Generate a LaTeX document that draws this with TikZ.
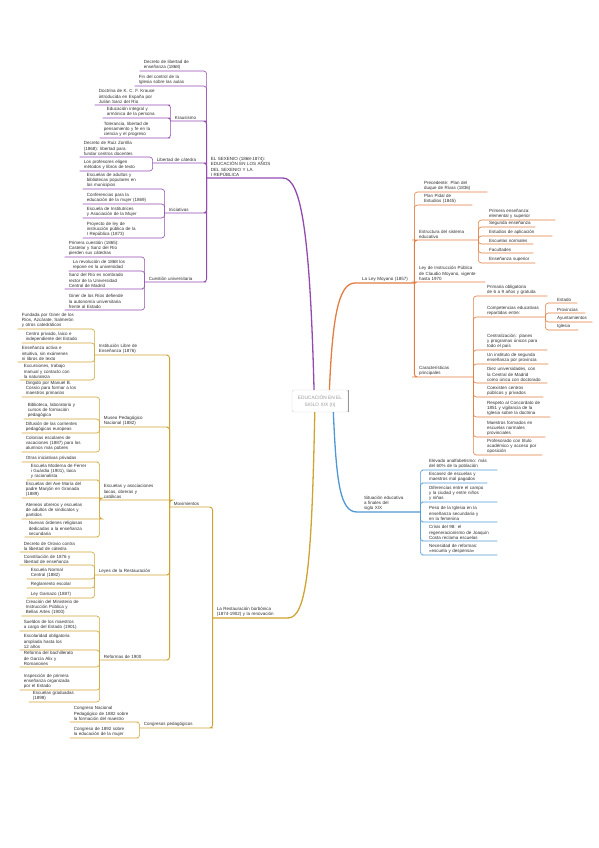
\documentclass[tikz,border=0pt]{standalone}
\usepackage{fontspec}
\setmainfont{Liberation Sans}
\usetikzlibrary{positioning}
\definecolor{purp}{RGB}{146,73,176}
\definecolor{orng}{RGB}{226,125,66}
\definecolor{blu}{RGB}{78,152,212}
\definecolor{gold}{RGB}{206,163,48}
\definecolor{txt}{RGB}{45,45,45}
\definecolor{hubgray}{RGB}{150,150,150}

\begin{document}
\begin{tikzpicture}[x=1pt, y=-1pt,
  every node/.style={font=\fontsize{4.5}{5.3}\selectfont, text=txt},
  leaf/.style={text width=#1, inner xsep=4pt, inner ysep=1.2pt, align=left},
  leaf/.default=56pt,
  root/.style={draw=hubgray!45, rounded corners=2pt, minimum width=56pt, minimum height=22pt,
               align=center, text=hubgray, font=\fontsize{4.8}{7}\selectfont},
  br/.style={line width=#1, rounded corners=3pt},
  br/.default=0.6pt
]
\useasboundingbox (0,0) rectangle (599,848);

\node[root] (root) at (320,401) {EDUCACIÓN EN EL\\SIGLO XIX (II)};
\draw[hubgray, line width=1pt] (root.north east) -- (root.south east);

% --- sexenio
\node[leaf=65pt, anchor=south east] (p0) at (280,178) {EL SEXENIO (1868-1874):\\EDUCACIÓN EN LOS AÑOS\\DEL SEXENIO Y LA\\I REPÚBLICA};
\node[leaf=52pt, anchor=south east] (pa1) at (200,71) {Decreto de libertad de\\enseñanza (1868)};
\node[leaf=57pt, anchor=south east] (pa2) at (200,86) {Fin del control de la\\Iglesia sobre las aulas};
\node[leaf=24pt, anchor=south east] (pk) at (203,121) {Krausismo};
\node[leaf=64pt, anchor=south east] (pc1) at (167,105) {Doctrina de K. C. F. Krause\\introducida en España por\\Julián Sanz del Río};
\node[leaf=56pt, anchor=south east] (pc2) at (167,118) {Educación integral y\\armónica de la persona};
\node[leaf=59pt, anchor=south east] (pc3) at (167,138) {Tolerancia, libertad de\\pensamiento y fe en la\\ciencia y el progreso};
\node[leaf=42pt, anchor=south east] (pl) at (203,163) {Libertad de cátedra};
\node[leaf=59pt, anchor=south east] (pd1) at (147,157) {Decreto de Ruiz Zorrilla\\(1868): libertad para\\fundar centros docentes};
\node[leaf=59pt, anchor=south east] (pd2) at (147,171) {Los profesores eligen\\métodos y libros de texto};
\node[leaf=30pt, anchor=south east] (pe) at (203,213) {Iniciativas};
\node[leaf=64pt, anchor=south east] (pe1) at (155,189) {Escuelas de adultos y\\bibliotecas populares en\\los municipios};
\node[leaf=64pt, anchor=south east] (pe2) at (155,204) {Conferencias para la\\educación de la mujer (1869)};
\node[leaf=64pt, anchor=south east] (pe3) at (155,218) {Escuela de Institutrices\\y Asociación de la Mujer};
\node[leaf=64pt, anchor=south east] (pe4) at (155,238) {Proyecto de ley de\\instrucción pública de la\\I República (1873)};
\node[leaf=50pt, anchor=south east] (pf) at (203,282) {Cuestión universitaria};
\node[leaf=64pt, anchor=south east] (pf1) at (137,257) {Primera cuestión (1865):\\Castelar y Sanz del Río\\pierden sus cátedras};
\node[leaf=60pt, anchor=south east] (pf2) at (137,271) {La revolución de 1868 los\\repone en la universidad};
\node[leaf=67pt, anchor=south east] (pf3) at (140,289) {Sanz del Río es nombrado\\rector de la Universidad\\Central de Madrid};
\node[leaf=64pt, anchor=south east] (pf4) at (137,310) {Giner de los Ríos defiende\\la autonomía universitaria\\frente al Estado};

\draw[purp, br=1.3pt] (root.118) .. controls +(-4,-150) and +(22,0) .. (p0.south east) -- (p0.south west);
\foreach \n in {pa1,pa2}
  \draw[purp, br] (p0.south west) |- (\n.south east) -- (\n.south west);
\foreach \n in {pk,pl,pe,pf}
  \draw[purp, br=0.9pt] (p0.south west) |- (\n.south east) -- (\n.south west);
\foreach \n in {pc1,pc2,pc3}
  \draw[purp, br] (pk.south west) |- (\n.south east) -- (\n.south west);
\foreach \n in {pd1,pd2}
  \draw[purp, br] (pl.south west) |- (\n.south east) -- (\n.south west);
\foreach \n in {pe1,pe2,pe3,pe4}
  \draw[purp, br] (pe.south west) |- (\n.south east) -- (\n.south west);
\foreach \n in {pf1,pf2,pf3,pf4}
  \draw[purp, br] (pf.south west) |- (\n.south east) -- (\n.south west);

% --- restauracion
\node[leaf=64pt, anchor=south east] (g0) at (285,618) {La Restauración borbónica\\(1874-1902) y la renovación};
\node[leaf=27pt, anchor=south east] (gm) at (205,507) {Movimientos};
\node[leaf=62pt, anchor=south east] (gi) at (165,355) {Institución Libre de\\Enseñanza (1876)};
\node[leaf=62pt, anchor=south east] (h1) at (88,329) {Fundada por Giner de los\\Ríos, Azcárate, Salmerón\\y otros catedráticos};
\node[leaf=58pt, anchor=south east] (h2) at (88,343) {Centro privado, laico e\\independiente del Estado};
\node[leaf=62pt, anchor=south east] (h3) at (88,362) {Enseñanza activa e\\intuitiva, sin exámenes\\ni libros de texto};
\node[leaf=60pt, anchor=south east] (h4) at (88,380) {Excursiones, trabajo\\manual y contacto con\\la naturaleza};
\node[leaf=57pt, anchor=south east] (gu) at (165,427) {Museo Pedagógico\\Nacional (1882)};
\node[leaf=60pt, anchor=south east] (i1) at (90,397) {Dirigido por Manuel B.\\Cossío para formar a los\\maestros primarios};
\node[leaf=60pt, anchor=south east] (i2) at (92,419) {Biblioteca, laboratorio y\\cursos de formación\\pedagógica};
\node[leaf=62pt, anchor=south east] (i3) at (92,433) {Difusión de las corrientes\\pedagógicas europeas};
\node[leaf=62pt, anchor=south east] (i4) at (92,452) {Colonias escolares de\\vacaciones (1887) para los\\alumnos más pobres};
\node[leaf=62pt, anchor=south east] (ga) at (170,500) {Escuelas y asociaciones\\laicas, obreras y\\católicas};
\node[leaf=65pt, anchor=south east] (j1) at (95,462) {Otras iniciativas privadas};
\node[leaf=60pt, anchor=south east] (j2) at (95,480) {Escuela Moderna de Ferrer\\i Guàrdia (1901), laica\\y racionalista};
\node[leaf=70pt, anchor=south east] (j3) at (100,498) {Escuelas del Ave María del\\padre Manjón en Granada\\(1889)};
\node[leaf=70pt, anchor=south east] (j4) at (100,519) {Ateneos obreros y escuelas\\de adultos de sindicatos y\\partidos};
\node[leaf=62pt, anchor=south east] (j5) at (95,537) {Nuevas órdenes religiosas\\dedicadas a la enseñanza\\secundaria};
\node[leaf=62pt, anchor=south east] (gl) at (165,575) {Leyes de la Restauración};
\node[leaf=57pt, anchor=south east] (k1) at (85,552) {Decreto de Orovio contra\\la libertad de cátedra};
\node[leaf=57pt, anchor=south east] (k2) at (85,565) {Constitución de 1876 y\\libertad de enseñanza};
\node[leaf=50pt, anchor=south east] (k3) at (85,579) {Escuela Normal\\Central (1882)};
\node[leaf=50pt, anchor=south east] (k4) at (85,588) {Reglamento escolar};
\node[leaf=50pt, anchor=south east] (k5) at (85,598) {Ley Gamazo (1887)};
\node[leaf=57pt, anchor=south east] (gr) at (165,660) {Reformas de 1900};
\node[leaf=60pt, anchor=south east] (l1) at (90,616) {Creación del Ministerio de\\Instrucción Pública y\\Bellas Artes (1900)};
\node[leaf=62pt, anchor=south east] (l2) at (90,631) {Sueldos de los maestros\\a cargo del Estado (1901)};
\node[leaf=62pt, anchor=south east] (l3) at (90,650) {Escolaridad obligatoria\\ampliada hasta los\\12 años};
\node[leaf=60pt, anchor=south east] (l4) at (88,667) {Reforma del bachillerato\\de García Alix y\\Romanones};
\node[leaf=62pt, anchor=south east] (l5) at (90,690) {Inspección de primera\\enseñanza organizada\\por el Estado};
\node[leaf=45pt, anchor=south east] (l6) at (82,702) {Escuelas graduadas\\(1898)};
\node[leaf=62pt, anchor=south east] (gc) at (210,728) {Congresos pedagógicos};
\node[leaf=57pt, anchor=south east] (m1) at (135,722) {Congreso Nacional\\Pedagógico de 1882 sobre\\la formación del maestro};
\node[leaf=57pt, anchor=south east] (m2) at (135,738) {Congreso de 1892 sobre\\la educación de la mujer};

\draw[gold, br=1.3pt] (root.-115) .. controls +(-3,150) and +(22,0) .. (g0.south east) -- (g0.south west);
\foreach \n in {gm,gc}
  \draw[gold, br=0.9pt] (g0.south west) |- (\n.south east) -- (\n.south west);
\foreach \n in {gi,gu,ga,gl,gr}
  \draw[gold, br=0.9pt] (gm.south west) |- (\n.south east) -- (\n.south west);
\foreach \n in {h1,h2,h3,h4}
  \draw[gold, br] (gi.south west) |- (\n.south east) -- (\n.south west);
\foreach \n in {i1,i2,i3,i4}
  \draw[gold, br] (gu.south west) |- (\n.south east) -- (\n.south west);
\foreach \n in {j1,j2,j3,j4,j5}
  \draw[gold, br] (ga.south west) |- (\n.south east) -- (\n.south west);
\foreach \n in {k1,k2,k3,k4,k5}
  \draw[gold, br] (gl.south west) |- (\n.south east) -- (\n.south west);
\foreach \n in {l1,l2,l3,l4,l5,l6}
  \draw[gold, br] (gr.south west) |- (\n.south east) -- (\n.south west);
\foreach \n in {m1,m2}
  \draw[gold, br] (gc.south west) |- (\n.south east) -- (\n.south west);

% --- ley moyano
\node[leaf=48pt, anchor=south west] (o0) at (358,283) {La Ley Moyano (1857)};
\node[leaf=59pt, anchor=south west] (n1) at (420,192) {Precedente: Plan del\\duque de Rivas (1836)};
\node[leaf=44pt, anchor=south west] (n2) at (420,205) {Plan Pidal de\\Estudios (1845)};
\node[leaf=55pt, anchor=south west] (n3) at (415,240) {Estructura del sistema\\educativo};
\node[leaf=62pt, anchor=south west] (n3a) at (485,220) {Primera enseñanza:\\elemental y superior};
\node[leaf=42pt, anchor=south west] (n3b) at (485,227) {Segunda enseñanza};
\node[leaf=59pt, anchor=south west] (n3c) at (485,236) {Estudios de aplicación};
\node[leaf=40pt, anchor=south west] (n3d) at (485,244) {Escuelas normales};
\node[leaf=40pt, anchor=south west] (n3e) at (485,253) {Facultades};
\node[leaf=42pt, anchor=south west] (n3f) at (485,263) {Enseñanza superior};
\node[leaf=62pt, anchor=south west] (n4) at (415,282) {Ley de Instrucción Pública\\de Claudio Moyano, vigente\\hasta 1970};
\node[leaf=50pt, anchor=south west] (n5) at (415,377) {Características\\principales};
\node[leaf=56pt, anchor=south west] (q1) at (483,296) {Primaria obligatoria\\de 6 a 9 años y gratuita};
\node[leaf=54pt, anchor=south west] (q2) at (483,317) {Competencias educativas\\repartidas entre:};
\node[leaf=16pt, anchor=south west] (q2a) at (553,303) {Estado};
\node[leaf=24pt, anchor=south west] (q2b) at (553,313) {Provincias};
\node[leaf=31pt, anchor=south west] (q2c) at (553,322) {Ayuntamientos};
\node[leaf=17pt, anchor=south west] (q2d) at (553,330) {Iglesia};
\node[leaf=56pt, anchor=south west] (q3) at (483,350) {Centralización: planes\\y programas únicos para\\todo el país};
\node[leaf=57pt, anchor=south west] (q4) at (483,364) {Un instituto de segunda\\enseñanza por provincia};
\node[leaf=56pt, anchor=south west] (q5) at (483,383) {Diez universidades, con\\la Central de Madrid\\como única con doctorado};
\node[leaf=52pt, anchor=south west] (q6) at (483,397) {Coexisten centros\\públicos y privados};
\node[leaf=59pt, anchor=south west] (q7) at (483,417) {Respeto al Concordato de\\1851 y vigilancia de la\\Iglesia sobre la doctrina};
\node[leaf=54pt, anchor=south west] (q8) at (483,437) {Maestros formados en\\escuelas normales\\provinciales};
\node[leaf=51pt, anchor=south west] (q9) at (483,455) {Profesorado con título\\académico y acceso por\\oposición};

\draw[orng, br=1.3pt] (root.50) .. controls +(3,-70) and +(-20,0) .. (o0.south west) -- (o0.south east);
\foreach \n in {n1,n2,n4}
  \draw[orng, br] (o0.south east) |- (\n.south west) -- (\n.south east);
\foreach \n in {n3,n5}
  \draw[orng, br=0.9pt] (o0.south east) |- (\n.south west) -- (\n.south east);
\foreach \n in {n3a,n3b,n3c,n3d,n3e,n3f}
  \draw[orng, br] (n3.south east) |- (\n.south west) -- (\n.south east);
\foreach \n in {q1,q2,q3,q4,q5,q6,q7,q8,q9}
  \draw[orng, br] (n5.south east) |- (\n.south west) -- (\n.south east);
\foreach \n in {q2a,q2b,q2c,q2d}
  \draw[orng, br] (q2.south east) |- (\n.south west) -- (\n.south east);

% --- situacion
\node[leaf=52pt, anchor=south west] (b0) at (360,512) {Situación educativa\\a finales del\\siglo XIX};
\node[leaf=64pt, anchor=south west] (s1) at (425,470) {Elevado analfabetismo: más\\del 60\% de la población};
\node[leaf=54pt, anchor=south west] (s2) at (425,483) {Escasez de escuelas y\\maestros mal pagados};
\node[leaf=64pt, anchor=south west] (s3) at (425,502) {Diferencias entre el campo\\y la ciudad y entre niños\\y niñas};
\node[leaf=64pt, anchor=south west] (s4) at (425,522) {Peso de la Iglesia en la\\enseñanza secundaria y\\en la femenina};
\node[leaf=64pt, anchor=south west] (s5) at (425,541) {Crisis del 98: el\\regeneracionismo de Joaquín\\Costa reclama escuelas};
\node[leaf=64pt, anchor=south west] (s6) at (425,555) {Necesidad de reformas:\\«escuela y despensa»};

\draw[blu, br=1.3pt] (root.-40) .. controls +(3,70) and +(-20,0) .. (b0.south west) -- (b0.south east);
\foreach \n in {s1,s2,s3,s4,s5,s6}
  \draw[blu, br] (b0.south east) |- (\n.south west) -- (\n.south east);
\end{tikzpicture}
\end{document}
